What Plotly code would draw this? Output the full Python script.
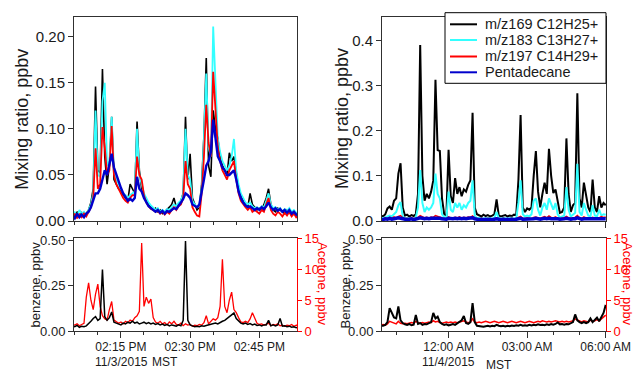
import pandas as pd
import plotly.graph_objects as go

# ---------------- data ----------------
# top-left / bottom-left panel: 30 s samples from 14:04:30 (11/3/2015)
tl_c12 = [0.008,0.004,0.010,0.006,0.009,0.005,0.008,0.012,0.020,0.035,
          0.146,0.055,0.052,0.165,0.070,0.040,0.060,0.113,0.045,0.040,
          0.035,0.032,0.028,0.025,0.022,0.040,0.035,0.030,0.108,0.055,
          0.035,0.028,0.022,0.018,0.015,0.012,0.014,0.010,0.012,0.008,
          0.010,0.012,0.015,0.018,0.025,0.015,0.018,0.022,0.030,0.113,
          0.045,0.073,0.025,0.018,0.012,0.015,0.040,0.093,0.177,0.060,
          0.048,0.120,0.100,0.090,0.070,0.060,0.055,0.050,0.074,0.065,
          0.070,0.050,0.035,0.028,0.022,0.018,0.015,0.030,0.018,0.015,
          0.012,0.014,0.012,0.018,0.025,0.035,0.018,0.012,0.010,0.014,
          0.012,0.010,0.008,0.012,0.010,0.006,0.010,0.008,0.006]
tl_c13 = [0.006,0.010,0.005,0.012,0.008,0.010,0.006,0.012,0.018,0.030,
          0.120,0.050,0.048,0.130,0.150,0.060,0.065,0.113,0.055,0.045,
          0.040,0.035,0.030,0.028,0.025,0.028,0.030,0.032,0.100,0.050,
          0.040,0.030,0.025,0.020,0.017,0.015,0.012,0.014,0.010,0.012,
          0.010,0.013,0.012,0.015,0.018,0.016,0.020,0.022,0.030,0.100,
          0.050,0.045,0.022,0.018,0.015,0.016,0.035,0.090,0.160,0.080,
          0.070,0.211,0.144,0.090,0.075,0.065,0.060,0.055,0.060,0.070,
          0.089,0.055,0.040,0.030,0.025,0.020,0.018,0.020,0.016,0.014,
          0.015,0.013,0.016,0.015,0.022,0.030,0.018,0.014,0.015,0.012,
          0.014,0.010,0.013,0.011,0.014,0.010,0.012,0.009,0.008]
tl_c14 = [0.004,0.008,0.003,0.007,0.004,0.008,0.005,0.010,0.015,0.025,
          0.079,0.035,0.040,0.102,0.080,0.050,0.055,0.103,0.050,0.040,
          0.035,0.030,0.025,0.022,0.020,0.025,0.028,0.028,0.070,0.050,
          0.045,0.028,0.020,0.016,0.013,0.012,0.010,0.011,0.008,0.010,
          0.007,0.010,0.008,0.012,0.015,0.012,0.016,0.018,0.025,0.065,
          0.040,0.035,0.015,0.010,0.006,0.005,0.030,0.070,0.126,0.085,
          0.070,0.162,0.117,0.080,0.065,0.055,0.050,0.045,0.055,0.060,
          0.065,0.045,0.030,0.022,0.018,0.015,0.012,0.015,0.010,0.012,
          0.010,0.008,0.012,0.010,0.018,0.025,0.012,0.008,0.006,0.010,
          0.008,0.005,0.009,0.006,0.010,0.005,0.008,0.004,0.006]
tl_c15 = [0.006,0.003,0.008,0.004,0.007,0.004,0.008,0.010,0.015,0.022,
          0.030,0.030,0.035,0.045,0.055,0.050,0.060,0.073,0.058,0.050,
          0.042,0.036,0.030,0.026,0.022,0.024,0.022,0.025,0.048,0.035,
          0.032,0.025,0.020,0.016,0.014,0.012,0.010,0.012,0.009,0.011,
          0.008,0.011,0.010,0.012,0.014,0.013,0.016,0.020,0.024,0.030,
          0.028,0.025,0.018,0.016,0.015,0.018,0.030,0.045,0.060,0.065,
          0.075,0.110,0.090,0.070,0.065,0.058,0.055,0.050,0.050,0.052,
          0.055,0.045,0.032,0.025,0.020,0.017,0.015,0.016,0.014,0.012,
          0.014,0.012,0.015,0.013,0.016,0.020,0.015,0.012,0.014,0.011,
          0.013,0.010,0.012,0.009,0.012,0.008,0.010,0.007,0.006]
bl_benzene = [0.030,0.025,0.032,0.022,0.028,0.025,0.030,0.040,0.055,0.070,
              0.080,0.060,0.070,0.339,0.080,0.060,0.075,0.106,0.050,0.045,
              0.040,0.035,0.045,0.040,0.050,0.045,0.055,0.045,0.050,0.040,
              0.045,0.050,0.042,0.048,0.040,0.045,0.038,0.042,0.035,0.040,
              0.032,0.038,0.030,0.035,0.032,0.028,0.035,0.030,0.060,0.495,
              0.060,0.035,0.030,0.025,0.028,0.025,0.030,0.028,0.032,0.035,
              0.038,0.042,0.045,0.040,0.050,0.055,0.060,0.070,0.075,0.090,
              0.100,0.070,0.055,0.045,0.040,0.045,0.038,0.042,0.035,0.040,
              0.032,0.035,0.030,0.035,0.035,0.060,0.030,0.035,0.030,0.035,
              0.070,0.028,0.030,0.025,0.028,0.022,0.025,0.020,0.022]
bl_acetone = [1.1,1.0,1.2,0.9,1.1,1.3,5.5,7.8,5.0,3.5,
              6.0,7.6,4.0,2.5,2.0,1.8,3.5,4.8,1.8,1.5,
              1.3,1.5,1.2,1.6,1.4,1.8,1.6,2.2,2.5,3.2,
              14.2,4.0,5.5,4.5,5.2,2.2,1.5,1.3,1.6,1.2,
              1.4,1.0,1.5,1.2,1.6,1.1,1.0,1.3,0.9,1.2,
              1.0,1.1,0.8,1.0,0.9,1.1,1.0,1.4,2.5,1.2,
              1.6,2.0,1.8,2.2,4.0,11.6,4.0,3.0,5.0,6.3,
              3.5,3.0,2.2,1.5,1.4,1.6,1.4,2.0,3.0,2.0,
              1.3,1.1,1.2,1.0,1.1,1.3,0.9,1.1,1.0,1.2,
              0.9,1.0,0.8,1.0,0.9,1.1,0.8,1.0,0.9]

# top-right / bottom-right panel: 5 min samples from 21:25 (11/3/2015)
tr_c12 = [0.012,0.010,0.015,0.028,0.032,0.025,0.045,0.050,0.105,0.128,
          0.030,0.012,0.014,0.010,0.013,0.011,0.015,0.060,0.390,0.100,
          0.045,0.060,0.050,0.065,0.090,0.313,0.157,0.155,0.050,0.015,
          0.012,0.158,0.055,0.040,0.095,0.060,0.075,0.055,0.070,0.065,
          0.080,0.090,0.240,0.030,0.015,0.012,0.010,0.014,0.011,0.013,
          0.010,0.012,0.015,0.048,0.012,0.010,0.011,0.013,0.010,0.012,
          0.011,0.014,0.013,0.090,0.235,0.030,0.020,0.028,0.025,0.030,
          0.100,0.155,0.065,0.030,0.060,0.085,0.060,0.160,0.100,0.062,
          0.070,0.040,0.018,0.020,0.030,0.183,0.060,0.020,0.035,0.040,
          0.283,0.050,0.030,0.085,0.060,0.030,0.020,0.092,0.030,0.020,
          0.055,0.030,0.040,0.035]
tr_c13 = [0.005,0.006,0.008,0.010,0.012,0.010,0.015,0.020,0.035,0.042,
          0.010,0.006,0.007,0.005,0.006,0.005,0.008,0.030,0.113,0.040,
          0.020,0.030,0.025,0.030,0.040,0.105,0.060,0.050,0.015,0.008,
          0.006,0.065,0.025,0.020,0.040,0.030,0.040,0.025,0.035,0.030,
          0.040,0.045,0.090,0.012,0.006,0.007,0.005,0.006,0.005,0.007,
          0.006,0.005,0.007,0.020,0.006,0.005,0.007,0.006,0.005,0.006,
          0.007,0.005,0.006,0.040,0.090,0.015,0.010,0.012,0.010,0.015,
          0.045,0.050,0.025,0.012,0.030,0.040,0.025,0.050,0.035,0.025,
          0.040,0.015,0.008,0.010,0.012,0.075,0.025,0.010,0.015,0.018,
          0.127,0.020,0.012,0.040,0.025,0.012,0.010,0.035,0.012,0.010,
          0.025,0.012,0.015,0.014]
tr_c14 = [0.006,0.004,0.007,0.005,0.008,0.006,0.009,0.007,0.010,0.012,
          0.007,0.005,0.006,0.004,0.007,0.005,0.006,0.008,0.012,0.009,
          0.007,0.008,0.006,0.009,0.008,0.012,0.010,0.009,0.006,0.005,
          0.004,0.009,0.007,0.006,0.008,0.007,0.009,0.006,0.008,0.007,
          0.009,0.008,0.011,0.006,0.005,0.004,0.006,0.005,0.004,0.006,
          0.005,0.004,0.005,0.007,0.005,0.004,0.006,0.005,0.004,0.005,
          0.006,0.004,0.005,0.008,0.010,0.006,0.005,0.007,0.006,0.005,
          0.008,0.009,0.007,0.006,0.008,0.010,0.007,0.011,0.008,0.007,
          0.009,0.006,0.005,0.006,0.007,0.010,0.007,0.006,0.007,0.008,
          0.012,0.007,0.006,0.009,0.007,0.006,0.005,0.008,0.006,0.005,
          0.007,0.010,0.008,0.009]
tr_c15 = [0.004,0.003,0.005,0.004,0.006,0.004,0.005,0.006,0.007,0.006,
          0.005,0.004,0.003,0.004,0.005,0.003,0.004,0.005,0.007,0.006,
          0.005,0.006,0.005,0.006,0.006,0.007,0.006,0.006,0.005,0.004,
          0.004,0.006,0.005,0.005,0.006,0.005,0.006,0.005,0.006,0.005,
          0.006,0.006,0.007,0.005,0.004,0.003,0.004,0.003,0.004,0.003,
          0.004,0.003,0.004,0.005,0.004,0.003,0.004,0.003,0.004,0.003,
          0.004,0.003,0.004,0.005,0.006,0.004,0.004,0.005,0.004,0.005,
          0.005,0.006,0.005,0.004,0.005,0.006,0.005,0.006,0.005,0.005,
          0.006,0.005,0.004,0.004,0.005,0.006,0.005,0.004,0.005,0.005,
          0.007,0.005,0.004,0.005,0.005,0.004,0.004,0.005,0.004,0.004,
          0.005,0.004,0.005,0.005]
br_benzene = [0.030,0.030,0.035,0.050,0.126,0.100,0.075,0.070,0.135,0.060,
              0.045,0.038,0.035,0.040,0.033,0.036,0.089,0.040,0.045,0.035,
              0.040,0.038,0.045,0.050,0.100,0.070,0.080,0.050,0.040,0.035,
              0.038,0.032,0.036,0.040,0.035,0.045,0.050,0.060,0.083,0.045,
              0.040,0.050,0.153,0.050,0.030,0.028,0.030,0.025,0.028,0.030,
              0.026,0.030,0.028,0.035,0.030,0.027,0.030,0.026,0.030,0.028,
              0.032,0.029,0.033,0.030,0.035,0.030,0.033,0.030,0.035,0.032,
              0.036,0.033,0.038,0.034,0.036,0.033,0.038,0.035,0.040,0.036,
              0.040,0.048,0.038,0.040,0.036,0.040,0.038,0.042,0.050,0.092,
              0.060,0.050,0.045,0.050,0.045,0.050,0.070,0.050,0.060,0.075,
              0.055,0.080,0.100,0.144]
br_acetone = [1.0,1.1,1.0,1.2,1.6,1.5,1.3,1.2,1.6,1.3,
              1.2,1.3,1.2,1.3,1.4,1.3,1.6,1.4,1.3,1.4,
              1.3,1.4,1.5,1.4,1.7,1.5,1.6,1.4,1.3,1.4,
              1.5,1.4,1.5,1.4,1.5,1.4,1.5,1.6,1.7,1.5,
              1.4,1.5,2.0,1.5,1.4,1.5,1.4,1.5,1.6,1.5,
              1.4,1.5,1.6,1.5,1.4,1.5,1.6,1.5,1.4,1.5,
              1.6,1.5,1.4,1.5,1.6,1.5,1.4,1.5,1.6,1.5,
              1.4,1.5,1.6,1.5,1.7,1.6,1.5,1.6,1.5,1.6,
              1.7,1.6,1.5,1.6,1.5,1.6,1.5,1.6,1.7,2.0,
              1.8,1.6,1.5,1.7,1.6,1.5,1.8,1.6,1.7,1.9,
              1.7,2.0,2.3,2.6]

series_names = ["m/z169 C12H25+", "m/z183 C13H27+", "m/z197 C14H29+", "Pentadecane"]

tl_time = pd.date_range("2015-11-03 14:04:30", periods=len(tl_c12), freq="30s")
tr_time = pd.date_range("2015-11-03 21:25:00", periods=len(tr_c12), freq="5min")

# ---------------- styling ----------------
W, H = 634, 372
FONT = "Liberation Sans, Arial, sans-serif"
AX = "#303030"
TXT = "#1a1a1a"
colors = ["#000000", "#33FFFF", "#FF0000", "#0000CC"]


def px(x):
    return x / W


def py(y):
    return 1 - y / H


fig = go.Figure()

# top-left
for vals, name, col, lw in zip([tl_c12, tl_c13, tl_c14, tl_c15], series_names, colors,
                                [1.6, 1.8, 1.8, 2.4]):
    fig.add_trace(go.Scatter(x=tl_time, y=vals, mode="lines", name=name, showlegend=False,
                             line=dict(color=col, width=lw), xaxis="x", yaxis="y"))
# top-right
for vals, name, col, lw in zip([tr_c12, tr_c13, tr_c14, tr_c15], series_names, colors,
                                [2.0, 2.0, 1.5, 3.5]):
    fig.add_trace(go.Scatter(x=tr_time, y=vals, mode="lines", name=name, showlegend=False,
                             line=dict(color=col, width=lw), xaxis="x2", yaxis="y2"))
# bottom-left (acetone on base axis, benzene overlaid on top)
fig.add_trace(go.Scatter(x=tl_time, y=bl_acetone, mode="lines", showlegend=False,
                         line=dict(color="#FF0000", width=1.3), xaxis="x3", yaxis="y3"))
fig.add_trace(go.Scatter(x=tl_time, y=bl_benzene, mode="lines", showlegend=False,
                         line=dict(color="#000000", width=1.5), xaxis="x3", yaxis="y4"))
# bottom-right
fig.add_trace(go.Scatter(x=tr_time, y=br_acetone, mode="lines", showlegend=False,
                         line=dict(color="#FF0000", width=1.5), xaxis="x4", yaxis="y5"))
fig.add_trace(go.Scatter(x=tr_time, y=br_benzene, mode="lines", showlegend=False,
                         line=dict(color="#000000", width=2), xaxis="x4", yaxis="y6"))

dom_xl = [px(74), px(297)]
dom_xr = [px(382), px(606)]
dom_yt = [py(221), py(17)]
dom_yb = [py(331.3), py(237.7)]

common_x = dict(type="date", showline=True, linecolor=AX, linewidth=1, mirror=True,
                ticks="outside", tickcolor=AX, ticklen=6, showgrid=False, zeroline=False,
                automargin=False)
common_y = dict(showline=True, linecolor=AX, linewidth=1, ticks="outside", tickcolor=AX,
                ticklen=5, showgrid=False, zeroline=False, automargin=False,
                tickfont=dict(size=15, color=TXT))
red_y = dict(side="right", range=[0, 15.06], dtick=5, showline=True, linecolor="#FF0000",
             ticks="outside", tickcolor="#FF0000", ticklen=4, automargin=False,
             tickfont=dict(size=13, color="#FF0000"), showgrid=False, zeroline=False)
benz_y = dict(side="left", dtick=0.25, tickformat=".2f", showline=True, linecolor=AX,
              ticks="outside", tickcolor=AX, ticklen=5, automargin=False,
              tickfont=dict(size=13, color=TXT), showgrid=False, zeroline=False)

left_range = ["2015-11-03 14:04:50", "2015-11-03 14:53:10"]
right_range = ["2015-11-03 21:27:30", "2015-11-04 06:00:40"]
left_ticks = dict(tick0="2015-11-03 14:00", dtick=15 * 60 * 1000,
                  minor=dict(dtick=5 * 60 * 1000, ticks="outside", ticklen=3, tickcolor=AX, showgrid=False))
right_ticks = dict(tick0="2015-11-04 00:00", dtick=3 * 3600 * 1000,
                   minor=dict(dtick=3600 * 1000, ticks="outside", ticklen=3, tickcolor=AX, showgrid=False))

fig.update_layout(
    width=W, height=H, margin=dict(l=0, r=0, t=0, b=0, pad=0), autosize=False,
    paper_bgcolor="white", plot_bgcolor="white", showlegend=False,
    font=dict(family=FONT, color=TXT),
    xaxis=dict(domain=dom_xl, anchor="y", range=left_range, showticklabels=False, **left_ticks, **common_x),
    yaxis=dict(domain=dom_yt, anchor="x", range=[0, 0.2214], dtick=0.05, tickformat=".2f",
               mirror=True, **common_y),
    xaxis2=dict(domain=dom_xr, anchor="y2", range=right_range, showticklabels=False, **right_ticks, **common_x),
    yaxis2=dict(domain=dom_yt, anchor="x2", range=[0, 0.452], dtick=0.1, tickformat=".1f",
                mirror=True, **common_y),
    xaxis3=dict(domain=dom_xl, anchor="y3", range=left_range, tickformat="%I:%M %p",
                ticklabelstandoff=-2, tickfont=dict(size=12, color=TXT), **left_ticks, **common_x),
    yaxis3=dict(domain=dom_yb, anchor="x3", **red_y),
    yaxis4=dict(overlaying="y3", anchor="x3", range=[0, 0.513], **benz_y),
    xaxis4=dict(domain=dom_xr, anchor="y5", range=right_range, tickformat="%I:%M %p",
                ticklabelstandoff=-2, tickfont=dict(size=12, color=TXT), **right_ticks, **common_x),
    yaxis5=dict(domain=dom_yb, anchor="x4", **red_y),
    yaxis6=dict(overlaying="y5", anchor="x4", range=[0, 0.51], **benz_y),
)

# legend box (drawn above the data)
fig.add_shape(type="rect", xref="paper", yref="paper", x0=px(445), x1=px(606), y0=py(83.3), y1=py(12.7),
              line=dict(color="#000000", width=1), fillcolor="white", layer="above")
legend_rows = [24.3, 40.0, 56.5, 72.3]
for name, col, ry in zip(series_names, colors, legend_rows):
    fig.add_shape(type="line", xref="paper", yref="paper", x0=px(450), x1=px(477), y0=py(ry), y1=py(ry),
                  line=dict(color=col, width=2), layer="above")
    fig.add_annotation(text=name, x=px(483), y=py(ry), xref="paper", yref="paper",
                       xanchor="left", yanchor="middle", showarrow=False,
                       font=dict(size=14.5, color=TXT, family=FONT))

annos = [
    ("Mixing ratio, ppbv", 21.7, 119, -90, 18, TXT),
    ("Mixing ratio, ppbv", 342, 119, -90, 18, TXT),
    ("benzene, ppbv", 35, 284.5, -90, 13, TXT),
    ("Acetone, ppbv", 323, 284, 90, 13, "#FF0000"),
    ("Benzene, ppbv", 345, 284.5, -90, 13, TXT),
    ("Acetone, ppbv", 628, 284, 90, 13, "#FF0000"),
    ("11/3/2015", 121.7, 361.5, 0, 12, TXT),
    ("MST", 164.7, 361.5, 0, 12, TXT),
    ("11/4/2015", 448.3, 361.5, 0, 12, TXT),
    ("MST", 498.8, 365, 0, 12, TXT),
]
for text, x, y, ang, size, col in annos:
    fig.add_annotation(text=text, x=px(x), y=py(y), xref="paper", yref="paper",
                       xanchor="center", yanchor="middle", showarrow=False, textangle=ang,
                       font=dict(size=size, color=col, family=FONT))

fig.write_html("out.html")
